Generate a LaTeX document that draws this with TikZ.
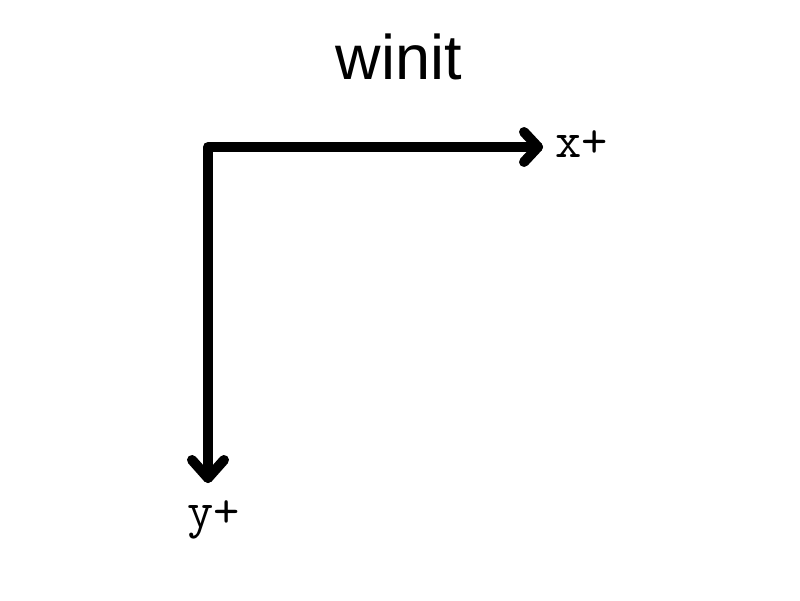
\documentclass[tikz,border=0pt]{standalone}
\usepackage{fontspec}
\usetikzlibrary{calc}
\setmainfont{Liberation Sans}
\begin{document}
\begin{tikzpicture}[x=1pt,y=-1pt,
  axis/.style={line width=10pt,line cap=round,line join=round},
  lbl/.style={inner sep=0pt,anchor=base west,font=\ttfamily\fontsize{51}{51}\selectfont},
  ttl/.style={inner sep=0pt,anchor=base,font=\fontsize{63}{63}\selectfont}]
\useasboundingbox[fill=white] (0,0) rectangle (800,600);
\node[ttl] (title) at (399,79) {winit};
\coordinate (o) at (208,147);
\coordinate (xe) at (538,147);
\coordinate (ye) at (208,478);
\draw[axis] (ye) -- (o) -- (xe);
\draw[axis] ($(xe)+(-14,-15)$) -- (xe) -- ($(xe)+(-14,15)$);
\draw[axis] ($(ye)+(-16,-18)$) -- (ye) -- ($(ye)+(16,-18)$);
\node[lbl] (xl) at (555,157) {x+};
\node[lbl] (yl) at (187,527) {y+};
\end{tikzpicture}
\end{document}
